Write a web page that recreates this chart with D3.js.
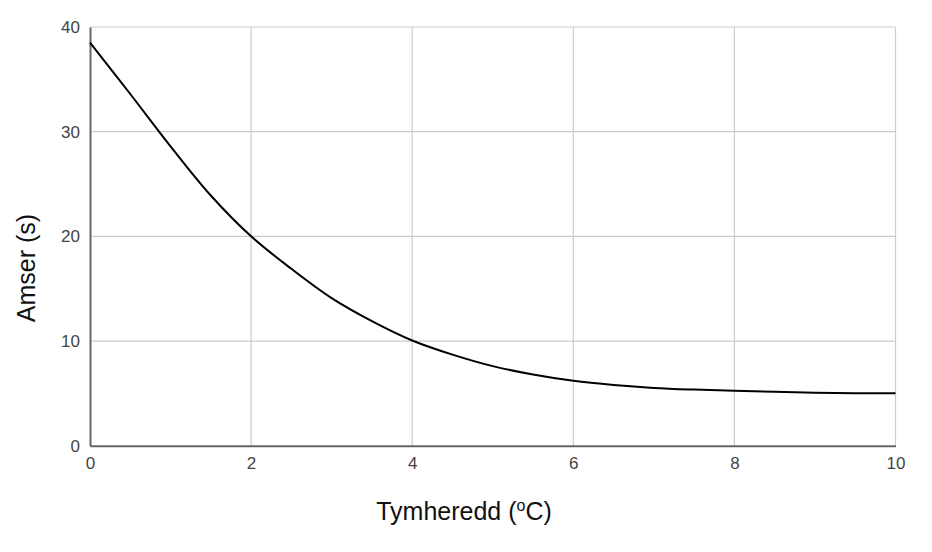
<!DOCTYPE html>
<html>
<head>
<meta charset="utf-8">
<script src="https://cdn.jsdelivr.net/npm/d3@7"></script>
<style>
body { margin: 0; background: #fff; }
svg { display: block; font-family: "Liberation Sans", Arial, sans-serif; }
</style>
</head>
<body>
<div id="chart"></div>
<script>
var temps = [0, 0.5, 1, 1.5, 2, 2.5, 3, 3.5, 4, 4.5, 5, 5.5, 6, 6.5, 7, 7.5, 8, 8.5, 9, 9.5, 10]
var times = [38.5, 33.6, 28.6, 23.9, 20, 16.9, 14.1, 11.9, 10.05, 8.7, 7.6, 6.8, 6.2, 5.8, 5.52, 5.36, 5.25, 5.15, 5.07, 5.02, 5.0]
var xTicks = [0, 2, 4, 6, 8, 10]
var yTicks = [0, 10, 20, 30, 40]

var width = 932, height = 552
var margin = {left: 90, right: 932 - 895.5, top: 27, bottom: 552 - 445.7}

var svg = d3.select("#chart").append("svg")
    .attr("width", width)
    .attr("height", height)

var x = d3.scaleLinear().domain([0, 10]).range([margin.left, width - margin.right])
var y = d3.scaleLinear().domain([0, 40]).range([height - margin.bottom, margin.top])

// grid
svg.append("g").selectAll("line.v")
    .data(xTicks.slice(1))
    .enter().append("line")
    .attr("x1", function(d) { return x(d) }).attr("x2", function(d) { return x(d) })
    .attr("y1", y(0)).attr("y2", y(40))
    .attr("stroke", "#cccccc").attr("stroke-width", 1.2)

svg.append("g").selectAll("line.h")
    .data(yTicks.slice(1))
    .enter().append("line")
    .attr("y1", function(d) { return y(d) }).attr("y2", function(d) { return y(d) })
    .attr("x1", x(0)).attr("x2", x(10))
    .attr("stroke", "#cccccc").attr("stroke-width", 1.2)

// axes
var xAxis = svg.append("g")
    .attr("transform", "translate(0," + y(0) + ")")
    .call(d3.axisBottom(x).tickValues(xTicks).tickSize(0).tickPadding(11))
xAxis.select(".domain").attr("stroke", "#666").attr("stroke-width", 2)
xAxis.selectAll("text").attr("fill", "#444").style("font-size", "17px")

var yAxis = svg.append("g")
    .attr("transform", "translate(" + x(0) + ",0)")
    .call(d3.axisLeft(y).tickValues(yTicks).tickSize(0).tickPadding(10))
yAxis.select(".domain").attr("stroke", "#666").attr("stroke-width", 2)
yAxis.selectAll("text").attr("fill", "#444").style("font-size", "17px")

// curve
var line = d3.line()
    .x(function(d, i) { return x(temps[i]) })
    .y(function(d) { return y(d) })
    .curve(d3.curveCatmullRom)

svg.append("path")
    .datum(times)
    .attr("d", line)
    .attr("fill", "none")
    .attr("stroke", "#000")
    .attr("stroke-width", 2)

// axis titles
var xt = svg.append("text")
    .attr("x", 464).attr("y", 520)
    .attr("text-anchor", "middle")
    .style("font-size", "25px")
    .attr("fill", "#111")
xt.append("tspan").text("Tymheredd (")
xt.append("tspan").text("o").attr("dy", -9).style("font-size", "16px")
xt.append("tspan").text("C)").attr("dy", 9)

svg.append("text")
    .attr("transform", "translate(35,268) rotate(-90)")
    .attr("text-anchor", "middle")
    .style("font-size", "25px")
    .attr("fill", "#111")
    .text("Amser (s)")
</script>
</body>
</html>
